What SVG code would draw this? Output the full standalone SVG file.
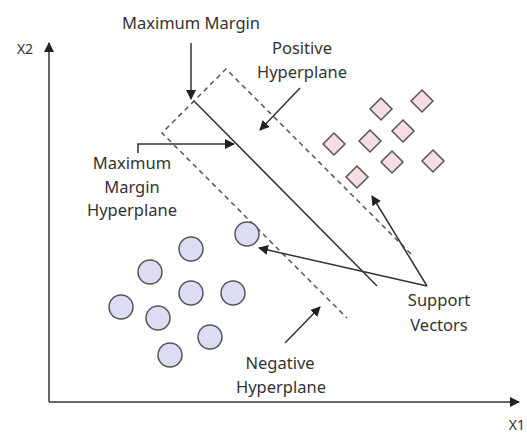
<svg xmlns="http://www.w3.org/2000/svg" width="527" height="436" viewBox="0 0 527 436">
<defs>
<style>
text{font-family:"Noto Sans","Open Sans",sans-serif;font-size:16.5px;fill:#333;text-anchor:middle}
.ax{font-size:14px}
.ln{stroke:#333;stroke-width:1.5;fill:none}
.dash{stroke:#555;stroke-width:1.5;fill:none;stroke-dasharray:5,4}
.c{fill:#dcdcf5;stroke:#555;stroke-width:1.5}
.d{fill:#f6dde2;stroke:#555;stroke-width:1.5}
</style>
<marker id="ah" viewBox="0 0 10 10" refX="9" refY="5" markerWidth="10" markerHeight="10" markerUnits="userSpaceOnUse" orient="auto">
<path d="M0,0 L10,5 L0,10 z" fill="#222"/>
</marker>
</defs>
<rect width="527" height="436" fill="#fff"/>
<g id="axes">
<line class="ln" x1="49" y1="402" x2="49" y2="43" marker-end="url(#ah)"/>
<line class="ln" x1="49" y1="402" x2="519" y2="402" marker-end="url(#ah)"/>
<text class="ax" x="25" y="54">X2</text>
<text class="ax" x="525" y="430" style="text-anchor:end">X1</text>
</g>
<g id="hyperplanes">
<path class="dash" d="M411,254 L226,69 L162,133 L347,318"/>
<line class="ln" x1="194" y1="101" x2="377" y2="286"/>
</g>
<g id="negative-class">
<circle class="c" cx="247" cy="234" r="12"/>
<circle class="c" cx="191" cy="249" r="12"/>
<circle class="c" cx="150" cy="272" r="12"/>
<circle class="c" cx="191" cy="293" r="12"/>
<circle class="c" cx="233" cy="293" r="12"/>
<circle class="c" cx="121" cy="307" r="12"/>
<circle class="c" cx="158" cy="318" r="12"/>
<circle class="c" cx="210" cy="337" r="12"/>
<circle class="c" cx="170" cy="355" r="12"/>
</g>
<g id="positive-class">
<path class="d" d="M422,90 L433,101 L422,112 L411,101 z"/>
<path class="d" d="M381,98 L392,109 L381,120 L370,109 z"/>
<path class="d" d="M403,120 L414,131 L403,142 L392,131 z"/>
<path class="d" d="M334,133 L345,144 L334,155 L323,144 z"/>
<path class="d" d="M370,130 L381,141 L370,152 L359,141 z"/>
<path class="d" d="M392,151 L403,162 L392,173 L381,162 z"/>
<path class="d" d="M433,150 L444,161 L433,172 L422,161 z"/>
<path class="d" d="M357,166 L368,177 L357,188 L346,177 z"/>
</g>
<g id="labels">
<text x="191" y="29">Maximum Margin</text>
<text x="302" y="54">Positive</text>
<text x="302" y="78">Hyperplane</text>
<text x="132" y="169">Maximum</text>
<text x="132" y="193">Margin</text>
<text x="132" y="216">Hyperplane</text>
<text x="439" y="306">Support</text>
<text x="439" y="331">Vectors</text>
<text x="280" y="369">Negative</text>
<text x="281" y="393">Hyperplane</text>
</g>
<g id="connectors">
<line class="ln" x1="191" y1="43" x2="191" y2="99" marker-end="url(#ah)"/>
<line class="ln" x1="300" y1="88" x2="260" y2="130" marker-end="url(#ah)"/>
<polyline class="ln" points="138,153 138,144 234,144" marker-end="url(#ah)"/>
<line class="ln" x1="427" y1="286" x2="259" y2="248" marker-end="url(#ah)"/>
<line class="ln" x1="427" y1="286" x2="372" y2="196" marker-end="url(#ah)"/>
<line class="ln" x1="285" y1="343" x2="320" y2="307" marker-end="url(#ah)"/>
</g>
</svg>
